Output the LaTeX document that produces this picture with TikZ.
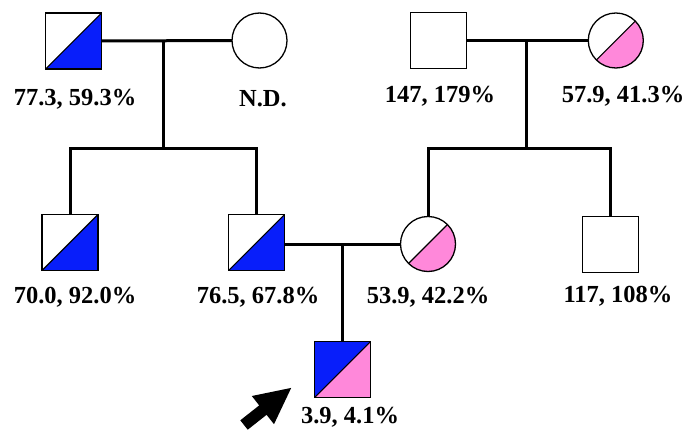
\documentclass[tikz,border=0pt]{standalone}
\usepackage{fontspec}
\setmainfont{Liberation Serif}
\usetikzlibrary{backgrounds}
\definecolor{afblue}{RGB}{8,30,250}
\definecolor{afpink}{RGB}{255,136,218}
\tikzset{
  x=1pt, y=-1pt,
  base/.style={draw=black, fill=white, line width=1.3pt, inner sep=0pt, outer sep=0pt},
  male/.style={base, rectangle, minimum size=56pt},
  female/.style={base, circle, minimum size=55pt},
  halfblue/.style={path picture={
      \fill[afblue] (path picture bounding box.south west) -- (path picture bounding box.south east)
        -- (path picture bounding box.north east) -- cycle;
      \draw[line width=1.1pt] (path picture bounding box.south west) -- (path picture bounding box.north east);}},
  halfpink/.style={path picture={
      \fill[afpink] (path picture bounding box.south west) -- (path picture bounding box.south east)
        -- (path picture bounding box.north east) -- cycle;
      \draw[line width=1.1pt] (path picture bounding box.south west) -- (path picture bounding box.north east);}},
  bothhalves/.style={path picture={
      \fill[afblue] (path picture bounding box.south west) rectangle (path picture bounding box.north east);
      \fill[afpink] (path picture bounding box.south west) -- (path picture bounding box.south east)
        -- (path picture bounding box.north east) -- cycle;
      \draw[line width=1.1pt] (path picture bounding box.south west) -- (path picture bounding box.north east);}},
  link/.style={line width=3pt},
  lbl/.style={font=\fontsize{24.5}{28}\selectfont\bfseries, inner sep=0pt},
}
\begin{document}
\begin{tikzpicture}
\useasboundingbox (0,0) rectangle (690,436);

% first generation
\node[male, halfblue] (pgf) at (73.7,41) {};
\node[female] (pgm) at (259.5,40.5) {};
\node[male] (mgf) at (438.7,40.5) {};
\node[female, halfpink] (mgm) at (615.8,40.5) {};

% second generation
\node[male, halfblue] (unc) at (70,242.5) {};
\node[male, halfblue] (dad) at (256.7,242.5) {};
\node[female, halfpink] (mom) at (428,244) {};
\node[male] (mun) at (610.5,244.7) {};

% proband
\node[male, bothhalves] (pro) at (342.5,369.7) {};

% unions and descent points
\coordinate (u1) at (163,41);
\coordinate (b1) at (163,148);
\coordinate (u2) at (526.7,41);
\coordinate (b2) at (526.7,148);
\coordinate (u3) at (342.5,244);

% connecting lines, kept behind the symbols
\begin{scope}[on background layer]
\draw[link] (pgf.center) -- (pgm.center);
\draw[link] (u1) -- (b1);
\draw[link] (unc.center) -- (unc.center |- b1) -- (dad.center |- b1) -- (dad.center);

\draw[link] (mgf.center) -- (mgm.center);
\draw[link] (u2) -- (b2);
\draw[link] (mom.center) -- (mom.center |- b2) -- (mun.center |- b2) -- (mun.center);

\draw[link] (dad.center |- u3) -- (mom.center |- u3);
\draw[link] (u3) -- (pro.center);
\end{scope}

% labels
\node[lbl] (lpgf) at (75,99) {77.3, 59.3\%};
\node[lbl] (lpgm) at (263,99) {N.D.};
\node[lbl] (lmgf) at (440,96) {147, 179\%};
\node[lbl] (lmgm) at (623,96) {57.9, 41.3\%};
\node[lbl] (lunc) at (75,297) {70.0, 92.0\%};
\node[lbl] (ldad) at (258,297) {76.5, 67.8\%};
\node[lbl] (lmom) at (428,297) {53.9, 42.2\%};
\node[lbl] (lmun) at (618,296) {117, 108\%};
\node[lbl] (lpro) at (350,417) {3.9, 4.1\%};

% pointer to the proband
\fill[black] (291.2,387.9) -- (274.0,424.2) -- (266.6,414.8) -- (247.7,429.7)
  -- (240.3,420.3) -- (259.2,405.4) -- (251.8,396.0) -- cycle;
\end{tikzpicture}
\end{document}
